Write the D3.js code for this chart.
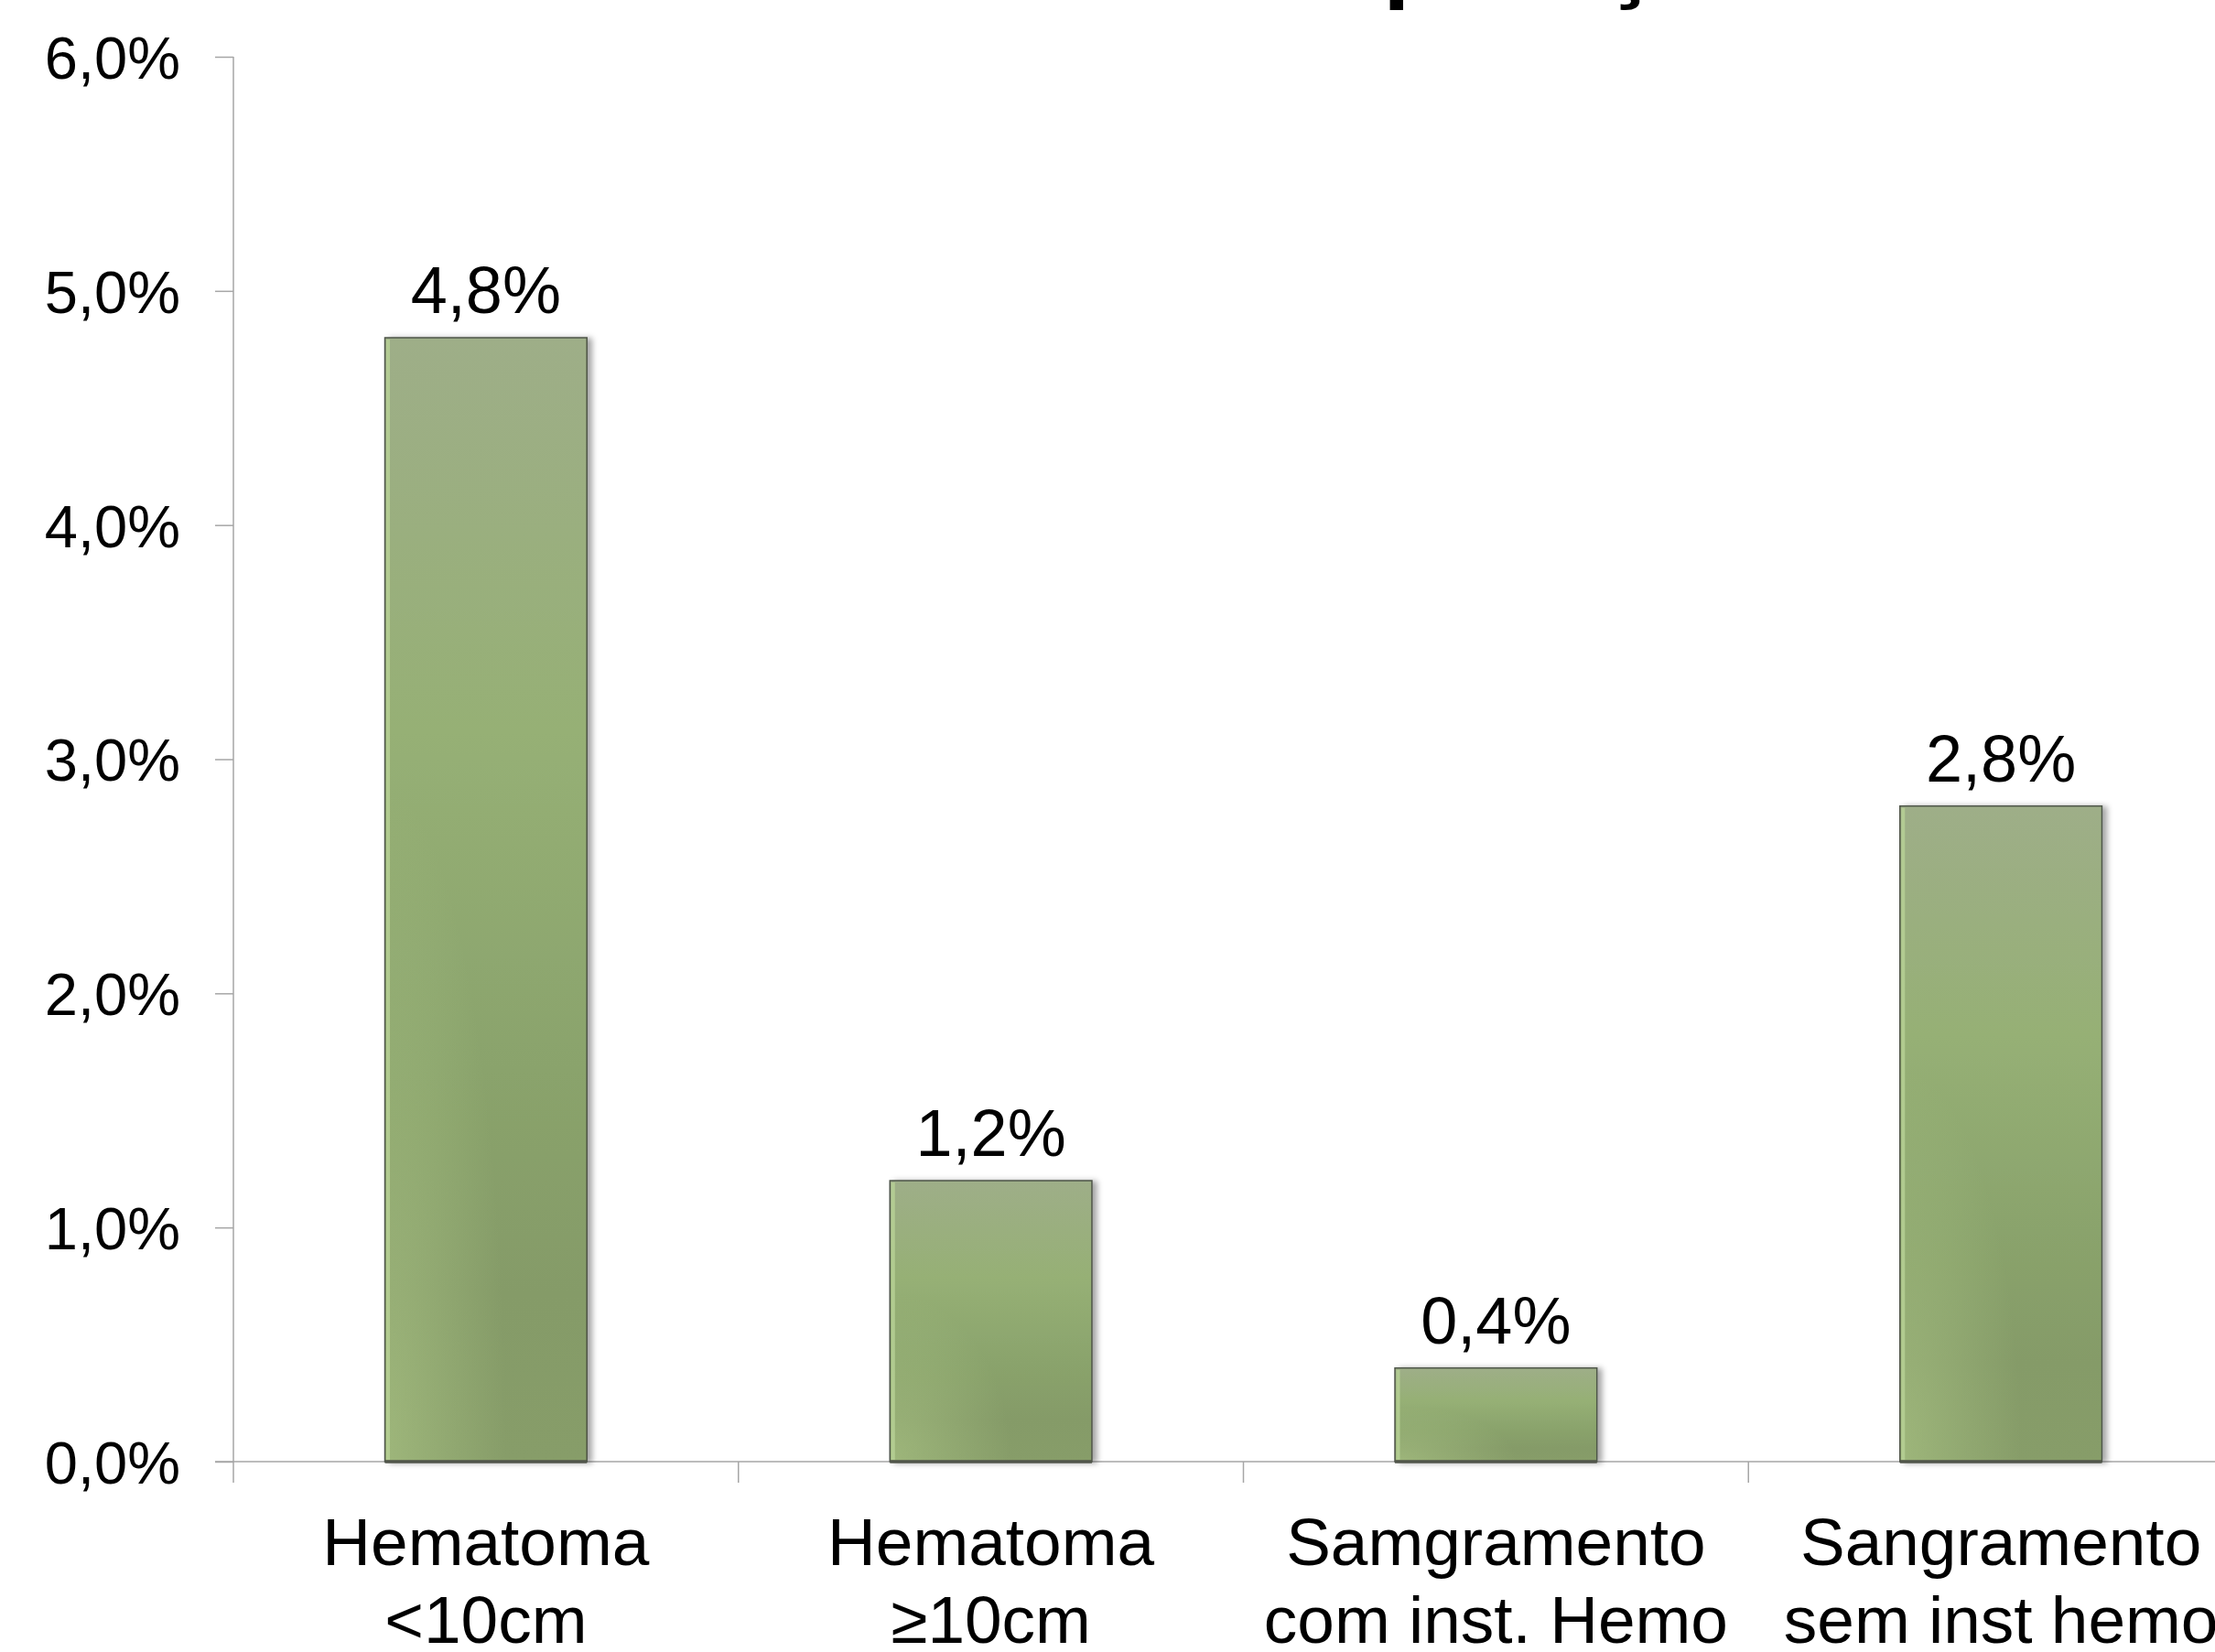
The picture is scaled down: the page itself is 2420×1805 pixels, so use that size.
<!DOCTYPE html>
<html>
<head>
<meta charset="utf-8">
<script src="https://cdn.jsdelivr.net/npm/d3@7"></script>
<style>
html,body{margin:0;padding:0;background:#fff;}
svg{display:block;}
</style>
</head>
<body>
<svg id="chart" width="2420" height="1805"></svg>
<script>
const titleText = "Complicações";
const categoryLine1 = ["Hematoma", "Hematoma", "Samgramento", "Sangramento"];
const categoryLine2 = ["<10cm", "≥10cm", "com inst. Hemo", "sem inst hemo"];
const values = [4.8, 1.2, 0.4, 2.8];
const yTicks = [0, 1, 2, 3, 4, 5, 6];

const svg = d3.select("#chart");
const W = 2420, H = 1805;
const plot = {left: 255, right: 2462, top: 62, bottom: 1597};
const fmt = d => d.toFixed(1).replace(".", ",") + "%";
const FONT = "'Liberation Sans', Arial, sans-serif";

const y = d3.scaleLinear().domain([0, 6]).range([plot.bottom, plot.top]);
const x = d3.scaleBand().domain(d3.range(values.length))
  .range([plot.left, plot.right]).paddingInner(0.6).paddingOuter(0.3);

const defs = svg.append("defs");
const grad = defs.append("linearGradient").attr("id", "barGrad")
  .attr("x1", 0).attr("y1", 0).attr("x2", 0).attr("y2", 1);
[[0, "#9eae88"], [0.35, "#96b075"], [0.65, "#8aa36c"], [0.85, "#859b68"], [1, "#879d69"]]
  .forEach(([o, c]) => grad.append("stop").attr("offset", o).attr("stop-color", c));
const glow = defs.append("radialGradient").attr("id", "glow")
  .attr("cx", 0).attr("cy", 1).attr("r", 0.6);
glow.append("stop").attr("offset", 0).attr("stop-color", "#b4cf8c").attr("stop-opacity", 0.5);
glow.append("stop").attr("offset", 1).attr("stop-color", "#b4cf8c").attr("stop-opacity", 0);
const flt = defs.append("filter").attr("id", "shadow")
  .attr("x", "-10%").attr("y", "-10%").attr("width", "130%").attr("height", "120%");
flt.append("feDropShadow").attr("dx", 5).attr("dy", 1).attr("stdDeviation", 3)
  .attr("flood-color", "#000").attr("flood-opacity", 0.35);

// Title (mostly clipped at top)
svg.append("text").attr("x", 1634).attr("y", -11)
  .attr("text-anchor", "middle").attr("font-family", FONT)
  .attr("font-weight", "bold").attr("font-size", 105).attr("fill", "#000")
  .text(titleText);

// Y axis
const yAxis = d3.axisLeft(y).tickValues(yTicks).tickFormat(fmt)
  .tickSize(20).tickPadding(38).tickSizeOuter(0);
const gy = svg.append("g").attr("transform", `translate(${plot.left},0)`).call(yAxis);
gy.select(".domain").attr("stroke", "#a6a6a6").attr("stroke-width", 1.5)
  .attr("d", `M0,${plot.top}V${plot.bottom + 23}`);
gy.selectAll(".tick line").attr("stroke", "#a6a6a6").attr("stroke-width", 1.5);
gy.selectAll(".tick text").attr("font-family", FONT).attr("font-size", 65)
  .attr("fill", "#000").attr("dy", "0.36em");

// X axis line and boundary ticks
const gx = svg.append("g");
gx.append("line").attr("x1", plot.left - 20).attr("x2", W + 50)
  .attr("y1", y(0)).attr("y2", y(0)).attr("stroke", "#a6a6a6").attr("stroke-width", 1.5);
const boundaries = d3.range(values.length).map(i => x(i) - (x.step() - x.bandwidth()) / 2)
  .concat([plot.right]);
gx.selectAll("line.bt").data(boundaries.slice(1)).join("line").attr("class", "bt")
  .attr("x1", d => d).attr("x2", d => d).attr("y1", y(0)).attr("y2", y(0) + 23)
  .attr("stroke", "#a6a6a6").attr("stroke-width", 1.5);

// Bars
const bars = svg.append("g");
const bg = bars.selectAll("g.bar").data(values).join("g").attr("class", "bar");
bg.append("rect")
  .attr("x", (d, i) => x(i)).attr("width", x.bandwidth())
  .attr("y", d => y(d)).attr("height", d => y(0) - y(d))
  .attr("fill", "url(#barGrad)").attr("filter", "url(#shadow)")
  .attr("stroke", "#4e5448").attr("stroke-width", 1.5);
bg.append("rect")
  .attr("x", (d, i) => x(i) + 1).attr("width", x.bandwidth() - 2)
  .attr("y", d => y(d) + 1).attr("height", d => y(0) - y(d) - 2)
  .attr("fill", "url(#glow)");
bg.append("rect")
  .attr("x", (d, i) => x(i) + 1.5).attr("width", 4)
  .attr("y", d => y(d) + 2).attr("height", d => y(0) - y(d) - 4)
  .attr("fill", "#b8d296").attr("opacity", 0.8);
bg.append("line")
  .attr("x1", (d, i) => x(i)).attr("x2", (d, i) => x(i) + x.bandwidth())
  .attr("y1", y(0)).attr("y2", y(0))
  .attr("stroke", "#50554a").attr("stroke-width", 3.5);

// Data labels
svg.append("g").selectAll("text").data(values).join("text")
  .attr("x", (d, i) => x(i) + x.bandwidth() / 2)
  .attr("y", d => y(d) - 27)
  .attr("text-anchor", "middle").attr("font-family", FONT)
  .attr("font-size", 72).attr("fill", "#000")
  .text(fmt);

// Category labels
const cl = svg.append("g").selectAll("text").data(categoryLine1).join("text")
  .attr("text-anchor", "middle").attr("font-family", FONT)
  .attr("font-size", 73).attr("fill", "#000");
cl.append("tspan").attr("x", (d, i) => x(i) + x.bandwidth() / 2).attr("y", 1710)
  .text(d => d);
cl.append("tspan").attr("x", (d, i) => x(i) + x.bandwidth() / 2).attr("y", 1795)
  .text((d, i) => categoryLine2[i]);
</script>
</body>
</html>
